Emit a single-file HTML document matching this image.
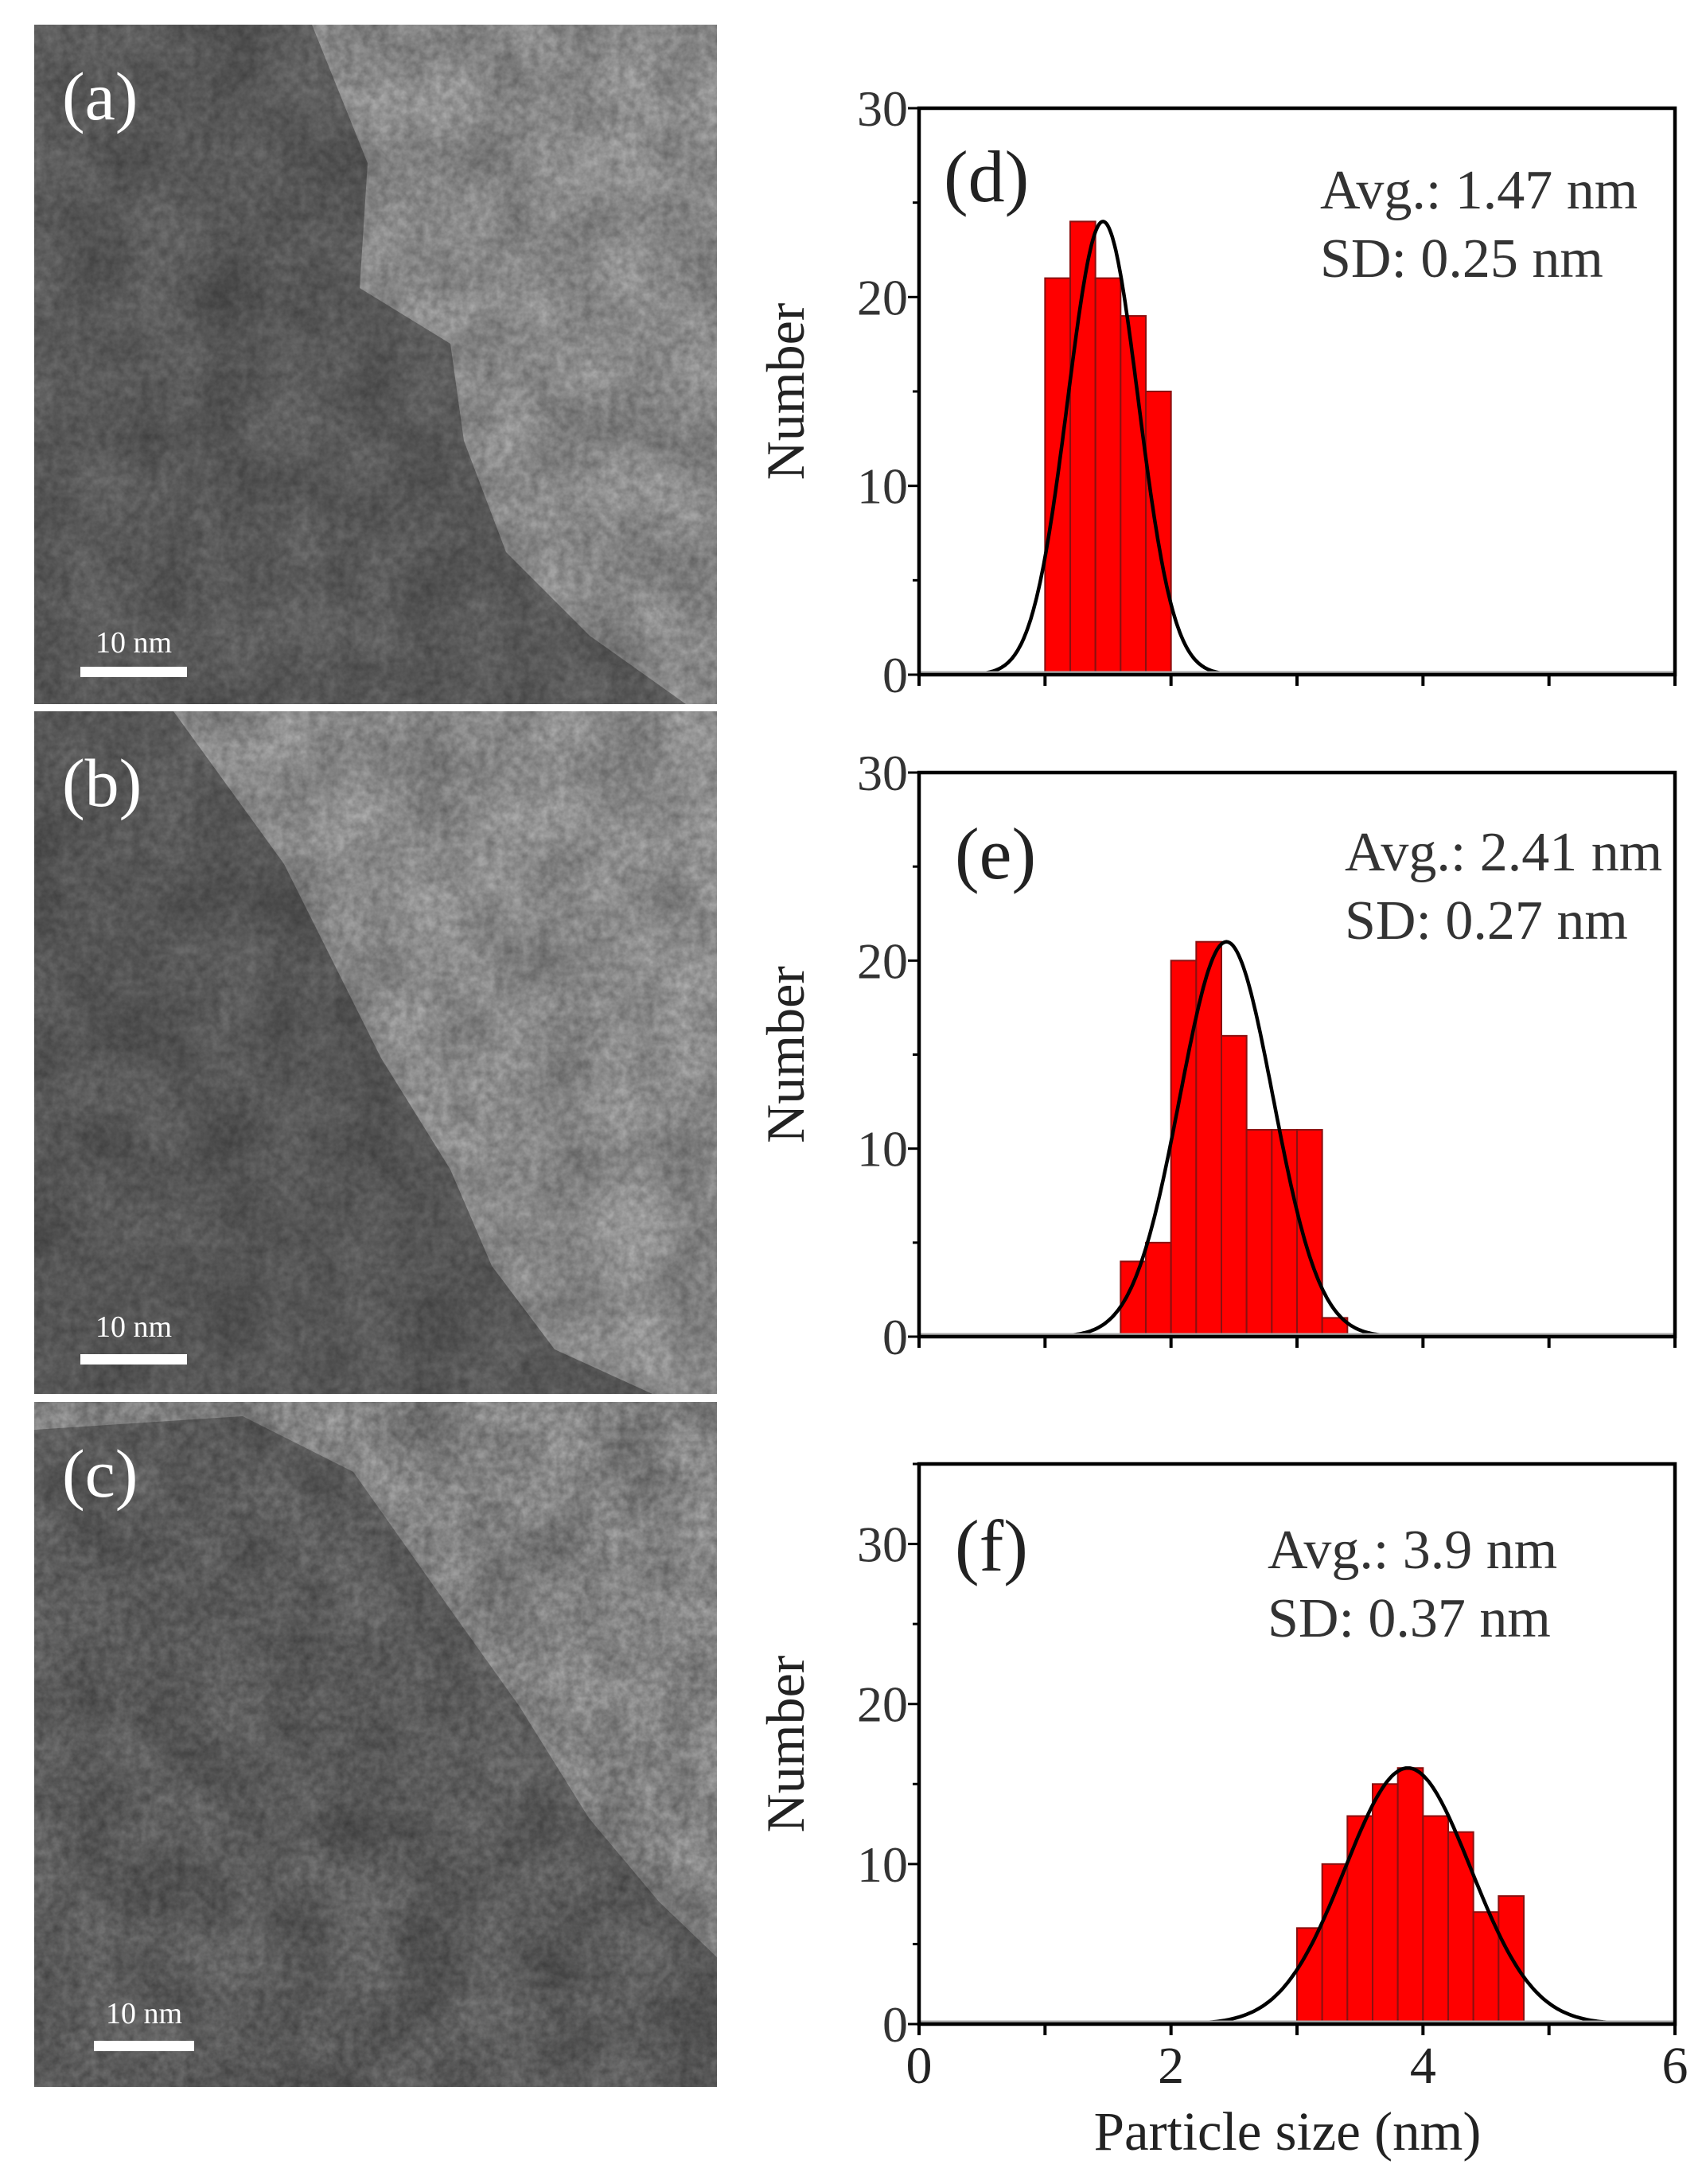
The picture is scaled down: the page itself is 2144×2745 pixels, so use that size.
<!DOCTYPE html>
<html><head><meta charset="utf-8">
<style>
html,body{margin:0;padding:0;background:#fff;}
svg{display:block;}
</style></head>
<body>
<svg id="fig" width="2144" height="2745" viewBox="0 0 2144 2745" xmlns="http://www.w3.org/2000/svg">
<defs>
<filter id="grain" x="0" y="0" width="100%" height="100%">
<feTurbulence type="fractalNoise" baseFrequency="0.09" numOctaves="3" seed="4"/>
<feColorMatrix type="matrix" values="0 0 0 0 0  0 0 0 0 0  0 0 0 0 0  0 0 0 0.55 -0.1"/>
</filter>
<filter id="blob" x="0" y="0" width="100%" height="100%">
<feTurbulence type="fractalNoise" baseFrequency="0.012" numOctaves="2" seed="9"/>
<feColorMatrix type="matrix" values="0 0 0 0 0  0 0 0 0 0  0 0 0 0 0  0 0 0 0.9 -0.25"/>
</filter>
<clipPath id="ca"><rect x="43" y="31" width="858" height="854"/></clipPath>
<clipPath id="cb"><rect x="43" y="894" width="858" height="858"/></clipPath>
<clipPath id="cc"><rect x="43" y="1762" width="858" height="861"/></clipPath>
</defs>

<g clip-path="url(#ca)">
<rect x="43" y="31" width="858" height="854" fill="#a9a9a9"/>
<polygon fill="#6f6f6f" points="43,31 392,31 462,205 452,362 566,432 583,554 636,694 741,799 862,885 43,885"/>
<rect x="43" y="31" width="858" height="854" filter="url(#blob)" opacity="0.45"/>
<rect x="43" y="31" width="858" height="854" filter="url(#grain)" opacity="0.7"/>
</g>
<text x="78" y="150" font-family="Liberation Serif, serif" font-size="86" fill="#fff">(a)</text>
<rect x="101" y="838" width="134" height="13" fill="#fff"/>
<text x="168" y="820" text-anchor="middle" font-family="Liberation Serif, serif" font-size="38" fill="#fff">10 nm</text>

<g clip-path="url(#cb)">
<rect x="43" y="894" width="858" height="858" fill="#ababab"/>
<polygon fill="#6c6c6c" points="43,894 218,894 357,1086 479,1330 566,1470 618,1591 697,1696 820,1752 43,1752"/>
<rect x="43" y="894" width="858" height="858" filter="url(#blob)" opacity="0.45"/>
<rect x="43" y="894" width="858" height="858" filter="url(#grain)" opacity="0.7"/>
</g>
<text x="78" y="1013" font-family="Liberation Serif, serif" font-size="86" fill="#fff">(b)</text>
<rect x="101" y="1702" width="134" height="13" fill="#fff"/>
<text x="168" y="1680" text-anchor="middle" font-family="Liberation Serif, serif" font-size="38" fill="#fff">10 nm</text>

<g clip-path="url(#cc)">
<rect x="43" y="1762" width="858" height="861" fill="#a6a6a6"/>
<polygon fill="#757575" points="43,1797 305,1780 444,1850 566,2023 653,2145 740,2285 828,2390 901,2460 901,2623 43,2623"/>
<rect x="43" y="1762" width="858" height="861" filter="url(#blob)" opacity="0.5"/>
<rect x="43" y="1762" width="858" height="861" filter="url(#grain)" opacity="0.8"/>
</g>
<text x="78" y="1881" font-family="Liberation Serif, serif" font-size="86" fill="#fff">(c)</text>
<rect x="118" y="2565" width="126" height="13" fill="#fff"/>
<text x="181" y="2543" text-anchor="middle" font-family="Liberation Serif, serif" font-size="38" fill="#fff">10 nm</text>

<g id="charts"></g>
</svg>
<script>
const binStartD = [1.0, 1.2, 1.4, 1.6, 1.8];
const countsD = [21, 24, 21, 19, 15];
const fitD = [1.46, 0.28, 24];
const binStartE = [1.6, 1.8, 2.0, 2.2, 2.4, 2.6, 2.8, 3.0, 3.2];
const countsE = [4, 5, 20, 21, 16, 11, 11, 11, 1];
const fitE = [2.44, 0.37, 21];
const binStartF = [3.0, 3.2, 3.4, 3.6, 3.8, 4.0, 4.2, 4.4, 4.6];
const countsF = [6, 10, 13, 15, 16, 13, 12, 7, 8];
const fitF = [3.88, 0.5, 16];
const binWidth = 0.2;
const xTicks = [0, 1, 2, 3, 4, 5, 6];
const xTickLabels = ["0", "", "2", "", "4", "", "6"];
const yTicksD = [0, 10, 20, 30];
const yTicksF = [0, 10, 20, 30];

const NS = "http://www.w3.org/2000/svg";
const root = document.getElementById("charts");
const FONT = "Liberation Serif, serif";

function mk(tag, attrs, parent) {
  const e = document.createElementNS(NS, tag);
  for (const k in attrs) e.setAttribute(k, attrs[k]);
  parent.appendChild(e);
  return e;
}

function panel(cfg) {
  const g = mk("g", {}, root);
  
  
  const L = 1155, R = 2105, T = cfg.top, B = cfg.bottom;
  const xs = v => L + (v - 0) / 6 * (R - L);
  const ys = v => B - v / cfg.ymax * (B - T);
  const bars = mk("g", {}, g);
  
  
  cfg.bins.forEach((b, i) => {
    const r = mk("rect", {x: xs(b), y: ys(cfg.counts[i]), width: xs(b + binWidth) - xs(b), height: ys(0) - ys(cfg.counts[i]), fill: "#ff0000", stroke: "#8a1010", "stroke-width": 2}, bars);
    
    
  });
  const [mu, sd, pk] = cfg.fit;
  let d = "";
  for (let k = 0; k <= 200; k++) {
    const x = mu - 3.3 * sd + k * 6.6 * sd / 200;
    const y = pk * Math.exp(-0.5 * ((x - mu) / sd) ** 2);
    d += (k ? "L" : "M") + xs(x).toFixed(1) + "," + ys(y).toFixed(1);
  }
  const c = mk("path", {d: d, fill: "none", stroke: "#000", "stroke-width": 4.5}, g);
  
  
  mk("line", {x1: L, x2: R, y1: B - 3, y2: B - 3, stroke: "#aaa", "stroke-width": 3}, g);
  const f = mk("rect", {x: L, y: T, width: R - L, height: B - T, fill: "none", stroke: "#000", "stroke-width": 4.5}, g);
  
  
  xTicks.forEach((t, i) => {
    mk("line", {x1: xs(t), x2: xs(t), y1: B, y2: B + 14, stroke: "#000", "stroke-width": 4}, g);
    if (cfg.xlabels && xTickLabels[i]) {
      const tx = mk("text", {x: xs(t), y: B + 74, "text-anchor": "middle", "font-family": FONT, "font-size": 66, fill: "#222"}, g);
      tx.textContent = xTickLabels[i];
      
      
    }
  });
  for (let v = 0; v <= cfg.ymax; v += 5) {
    const major = v % 10 === 0;
    mk("line", {x1: L - (major ? 14 : 8), x2: L, y1: ys(v), y2: ys(v), stroke: "#000", "stroke-width": 3}, g);
  }
  cfg.yticks.forEach(v => {
    const tx = mk("text", {x: L - 14, y: ys(v) + 22, "text-anchor": "end", "font-family": FONT, "font-size": 64, fill: "#333"}, g);
    tx.textContent = String(v);
    
    
  });
  const cy = (T + B) / 2;
  const yt = mk("text", {x: 0, y: 0, transform: `translate(1010,${cy}) rotate(-90)`, "text-anchor": "middle", "font-family": FONT, "font-size": 68, fill: "#222"}, g);
  yt.textContent = "Number";
  
  
  const pl = mk("text", {x: cfg.letterX, y: cfg.letterY, "font-family": FONT, "font-size": 92, fill: "#222"}, g);
  pl.textContent = cfg.letter;
  
  
  const a = mk("text", {x: cfg.statX, y: cfg.statY, "font-family": FONT, "font-size": 70, fill: "#333"}, g);
  a.textContent = cfg.avg;
  
  
  const s = mk("text", {x: cfg.statX, y: cfg.statY + 86, "font-family": FONT, "font-size": 70, fill: "#333"}, g);
  s.textContent = cfg.sd;
  
  
  if (cfg.xlabels) {
    const xt = mk("text", {x: 1618, y: 2702, "text-anchor": "middle", "font-family": FONT, "font-size": 69, fill: "#222"}, g);
    xt.textContent = "Particle size (nm)";
    
    
  }
}

panel({name: "histogram-d", top: 136, bottom: 848, ymax: 30, bins: binStartD, counts: countsD, fit: fitD, yticks: yTicksD,
  letter: "(d)", letterX: 1186, letterY: 253, avg: "Avg.: 1.47 nm", sd: "SD: 0.25 nm", statX: 1659, statY: 262, xlabels: false});
panel({name: "histogram-e", top: 971, bottom: 1680, ymax: 30, bins: binStartE, counts: countsE, fit: fitE, yticks: yTicksD,
  letter: "(e)", letterX: 1200, letterY: 1104, avg: "Avg.: 2.41 nm", sd: "SD: 0.27 nm", statX: 1690, statY: 1094, xlabels: false});
panel({name: "histogram-f", top: 1840, bottom: 2544, ymax: 35, bins: binStartF, counts: countsF, fit: fitF, yticks: yTicksF,
  letter: "(f)", letterX: 1200, letterY: 1974, avg: "Avg.: 3.9 nm", sd: "SD: 0.37 nm", statX: 1593, statY: 1971, xlabels: true});
</script>
</body></html>
